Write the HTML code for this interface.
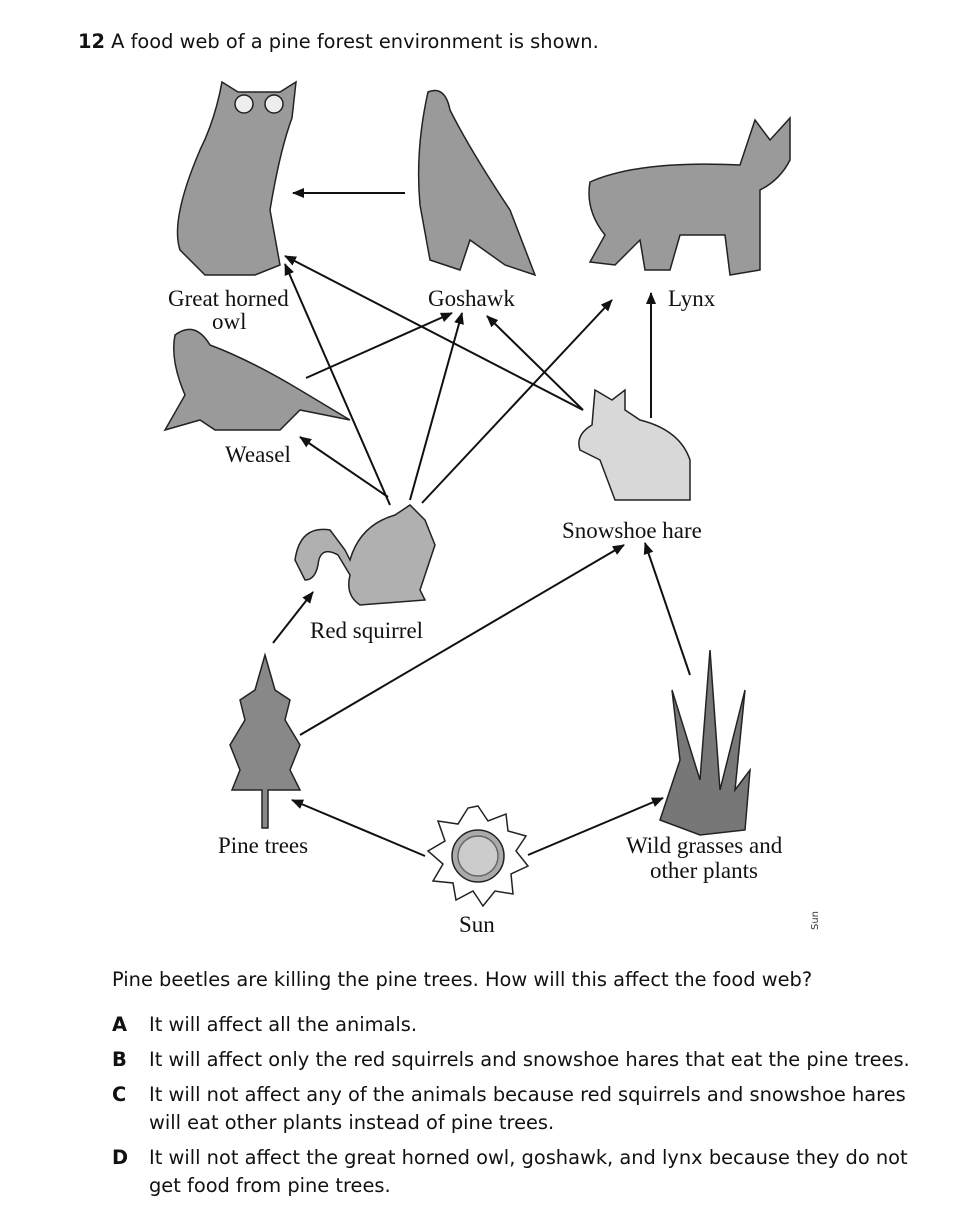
<!DOCTYPE html>
<html><head><meta charset="utf-8"><style>
html,body{margin:0;padding:0;background:#fff;width:956px;height:1206px;overflow:hidden;position:relative}
.t{position:absolute;font-family:"DejaVu Sans","Liberation Sans",sans-serif;font-size:19.4px;color:#111;white-space:nowrap}
.s{font-family:"Liberation Serif",serif;font-size:23px;fill:#111}
</style></head><body>
<div class="t" style="left:78px;top:30px"><b>12</b> A food web of a pine forest environment is shown.</div>
<svg width="956" height="960" style="position:absolute;left:0;top:0">
<defs><marker id="a" markerWidth="12" markerHeight="10" refX="11" refY="5" orient="auto" markerUnits="userSpaceOnUse"><path d="M0,0 L12,5 L0,10 z" fill="#111"/></marker></defs>
<g fill="#9a9a9a" stroke="#222" stroke-width="1.5">
<path d="M222,82 L238,92 L280,92 L296,82 L292,118 Q280,150 270,210 L280,265 L255,275 L205,275 L180,250 Q170,220 200,150 Q215,120 222,82 z"/>
<circle cx="244" cy="104" r="9" fill="#eee"/><circle cx="274" cy="104" r="9" fill="#eee"/>
<path d="M428,92 Q445,85 450,110 Q470,150 510,210 L535,275 L505,265 L470,240 L460,270 L430,260 L420,205 Q415,150 428,92 z"/>
<path d="M590,182 Q640,160 740,165 L755,120 L770,140 L790,118 L790,160 Q780,180 760,190 L760,270 L730,275 L725,235 L680,235 L670,270 L645,270 L640,240 L615,265 L590,262 L605,235 Q585,210 590,182 z"/>
<path d="M175,335 Q195,320 210,345 Q250,360 300,390 L350,420 L300,410 L280,430 L215,430 L200,420 L165,430 L185,395 Q170,360 175,335 z"/>
<path d="M595,390 L592,425 Q575,435 580,450 L600,460 L615,500 L690,500 L690,460 Q680,430 640,420 L625,410 L625,390 L612,400 z" fill="#d8d8d8"/>
<path d="M295,560 Q300,525 330,530 L345,550 L350,560 Q360,525 395,515 L410,505 L425,520 L435,545 L420,590 L425,600 L360,605 Q345,595 350,575 L338,555 Q320,545 318,565 Q315,580 305,580 z" fill="#b0b0b0"/>
<path d="M265,655 L275,690 L290,700 L285,720 L300,745 L290,770 L300,790 L268,790 L268,828 L262,828 L262,790 L232,790 L240,770 L230,745 L245,720 L240,700 L255,690 z" fill="#888"/>
<path d="M660,820 L680,760 L672,690 L700,780 L710,650 L720,790 L745,690 L735,790 L750,770 L745,830 L700,835 z" fill="#777"/>
<g transform="translate(478,856)">
<polygon points="0,-50 10,-35 28,-42 30,-25 48,-20 38,-5 50,10 33,18 35,38 17,35 5,50 -5,35 -22,44 -25,27 -45,25 -35,8 -50,-5 -33,-15 -40,-35 -20,-32 -10,-48" fill="#fff"/>
<circle r="26" fill="#aaa"/><circle r="20" fill="#ccc" stroke="#666"/>
</g>
</g>
<g stroke="#111" stroke-width="2" marker-end="url(#a)">
<line x1="405" y1="193" x2="293" y2="193"/>
<line x1="390" y1="505" x2="285" y2="264"/>
<line x1="410" y1="500" x2="462" y2="313"/>
<line x1="422" y1="503" x2="612" y2="300"/>
<line x1="388" y1="497" x2="300" y2="437"/>
<line x1="306" y1="378" x2="452" y2="313"/>
<line x1="583" y1="410" x2="285" y2="256"/>
<line x1="583" y1="410" x2="487" y2="316"/>
<line x1="651" y1="418" x2="651" y2="293"/>
<line x1="273" y1="643" x2="313" y2="592"/>
<line x1="300" y1="735" x2="624" y2="545"/>
<line x1="690" y1="675" x2="645" y2="543"/>
<line x1="425" y1="856" x2="292" y2="800"/>
<line x1="528" y1="855" x2="663" y2="798"/>
</g>
<text class="s" x="168" y="306">Great horned</text>
<text class="s" x="212" y="329">owl</text>
<text class="s" x="428" y="306">Goshawk</text>
<text class="s" x="668" y="306">Lynx</text>
<text class="s" x="225" y="462">Weasel</text>
<text class="s" x="562" y="538">Snowshoe hare</text>
<text class="s" x="310" y="638">Red squirrel</text>
<text class="s" x="218" y="853">Pine trees</text>
<text class="s" x="626" y="853">Wild grasses and</text>
<text class="s" x="650" y="878">other plants</text>
<text class="s" x="459" y="932">Sun</text>
<text x="818" y="930" font-family="DejaVu Sans" font-size="10" transform="rotate(-90 818 930)" fill="#333">Sun</text>
</svg>
<div class="t" style="left:112px;top:968px">Pine beetles are killing the pine trees. How will this affect the food web?</div>
<div class="t" style="left:112px;top:1013px"><b>A</b></div><div class="t" style="left:149px;top:1013px">It will affect all the animals.</div>
<div class="t" style="left:112px;top:1048px"><b>B</b></div><div class="t" style="left:149px;top:1048px">It will affect only the red squirrels and snowshoe hares that eat the pine trees.</div>
<div class="t" style="left:112px;top:1083px"><b>C</b></div><div class="t" style="left:149px;top:1083px">It will not affect any of the animals because red squirrels and snowshoe hares</div>
<div class="t" style="left:149px;top:1111px">will eat other plants instead of pine trees.</div>
<div class="t" style="left:112px;top:1146px"><b>D</b></div><div class="t" style="left:149px;top:1146px">It will not affect the great horned owl, goshawk, and lynx because they do not</div>
<div class="t" style="left:149px;top:1174px">get food from pine trees.</div>
</body></html>
